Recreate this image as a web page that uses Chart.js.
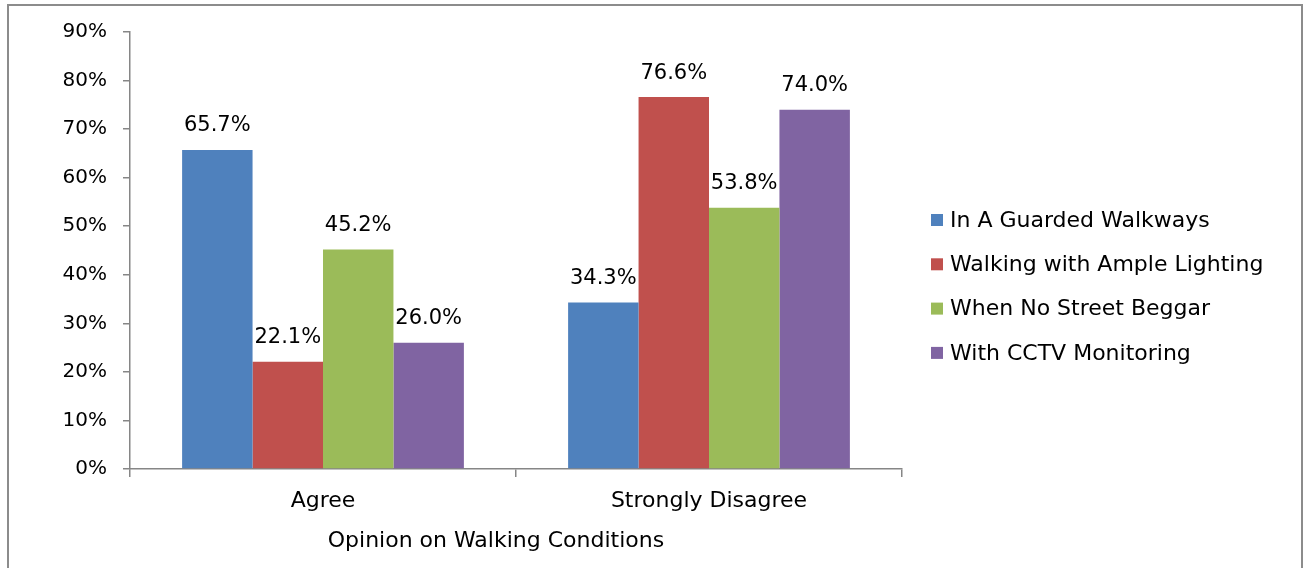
<!DOCTYPE html>
<html><head><meta charset="utf-8">
<script src="https://cdn.jsdelivr.net/npm/chart.js@4.4.1/dist/chart.umd.min.js"></script>
<style>
html,body{margin:0;padding:0;background:#fff;overflow:hidden;}
#frame{position:absolute;left:7px;top:4px;width:1296px;height:700px;border:2px solid #8c8c8c;box-sizing:border-box;}
#c{position:absolute;left:0;top:0;}
</style></head><body>
<div id="frame"></div>
<canvas id="c" width="1304" height="568"></canvas>
<script>
// ---- data ----
const categories = ['Agree', 'Strongly Disagree'];
const seriesNames = ['In A Guarded Walkways', 'Walking with Ample Lighting', 'When No Street Beggar', 'With CCTV Monitoring'];
const guardedWalkways = [65.7, 34.3];
const ampleLighting = [22.1, 76.6];
const noStreetBeggar = [45.2, 53.8];
const cctvMonitoring = [26.0, 74.0];
const yTickValues = [0, 10, 20, 30, 40, 50, 60, 70, 80, 90];
const xAxisTitle = 'Opinion on Walking Conditions';
const seriesColors = ['#4F81BD', '#C0504D', '#9BBB59', '#8064A2'];

// ---- styles ----
const FONT = "'DejaVu Sans', sans-serif";
const FS_NUM = 20;
const FS_TXT = 22;
const AXIS_COLOR = '#868686';
const TEXT_COLOR = '#000000';

const seriesValues = [guardedWalkways, ampleLighting, noStreetBeggar, cctvMonitoring];

const valueLabels = {
  id: 'valueLabels',
  afterDatasetsDraw(chart) {
    const ctx = chart.ctx;
    ctx.save();
    ctx.font = '21px ' + FONT;
    ctx.fillStyle = TEXT_COLOR;
    ctx.textAlign = 'center';
    ctx.textBaseline = 'middle';
    chart.data.datasets.forEach((ds, di) => {
      const meta = chart.getDatasetMeta(di);
      meta.data.forEach((el, i) => {
        ctx.fillText(ds.data[i].toFixed(1) + '%', el.x, el.y - 24);
      });
    });
    ctx.restore();
  }
};

const sideLegendAndTitle = {
  id: 'sideLegendAndTitle',
  afterDraw(chart) {
    const ctx = chart.ctx;
    const ca = chart.chartArea;
    ctx.save();
    ctx.font = FS_TXT + 'px ' + FONT;
    ctx.textAlign = 'left';
    ctx.textBaseline = 'middle';
    const x0 = ca.right + 29;
    const y0 = 220, step = 44.3;
    chart.data.datasets.forEach((ds, i) => {
      const y = y0 + i * step;
      ctx.fillStyle = ds.backgroundColor;
      ctx.fillRect(x0, y - 6, 12, 12);
      ctx.fillStyle = TEXT_COLOR;
      ctx.fillText(ds.label, x0 + 19, y + 1);
    });
    // axis title
    ctx.textAlign = 'center';
    ctx.fillText(xAxisTitle, ca.left + ca.width * 0.474, 541);
    ctx.restore();
  }
};

new Chart(document.getElementById('c'), {
  type: 'bar',
  data: {
    labels: categories,
    datasets: seriesNames.map((name, i) => ({
      label: name,
      data: seriesValues[i],
      backgroundColor: seriesColors[i],
      borderWidth: 0,
      categoryPercentage: 0.73,
      barPercentage: 1.0
    }))
  },
  options: {
    responsive: false,
    animation: false,
    devicePixelRatio: 1,
    layout: { padding: { top: 32, right: 402, bottom: 5, left: 0 } },
    plugins: { legend: { display: false }, tooltip: { enabled: false } },
    scales: {
      x: {
        afterFit: s => { s.height = 568 - 5 - 469; },
        grid: { display: true, drawOnChartArea: false, drawTicks: true, tickLength: 8, color: AXIS_COLOR, lineWidth: 1.5 },
        border: { display: true, color: AXIS_COLOR, width: 1.5 },
        ticks: { color: TEXT_COLOR, font: { family: FONT, size: FS_TXT }, padding: 11 }
      },
      y: {
        min: 0, max: 90,
        afterFit: s => { s.width = 130; },
        afterBuildTicks: s => { s.ticks = yTickValues.map(v => ({ value: v })); },
        grid: { display: true, drawOnChartArea: false, drawTicks: true, tickLength: 7, color: AXIS_COLOR, lineWidth: 1.5 },
        border: { display: true, color: AXIS_COLOR, width: 1.5 },
        ticks: { color: TEXT_COLOR, font: { family: FONT, size: FS_NUM }, padding: 16, callback: v => v + '%' }
      }
    }
  },
  plugins: [valueLabels, sideLegendAndTitle]
});
</script>
</body></html>
